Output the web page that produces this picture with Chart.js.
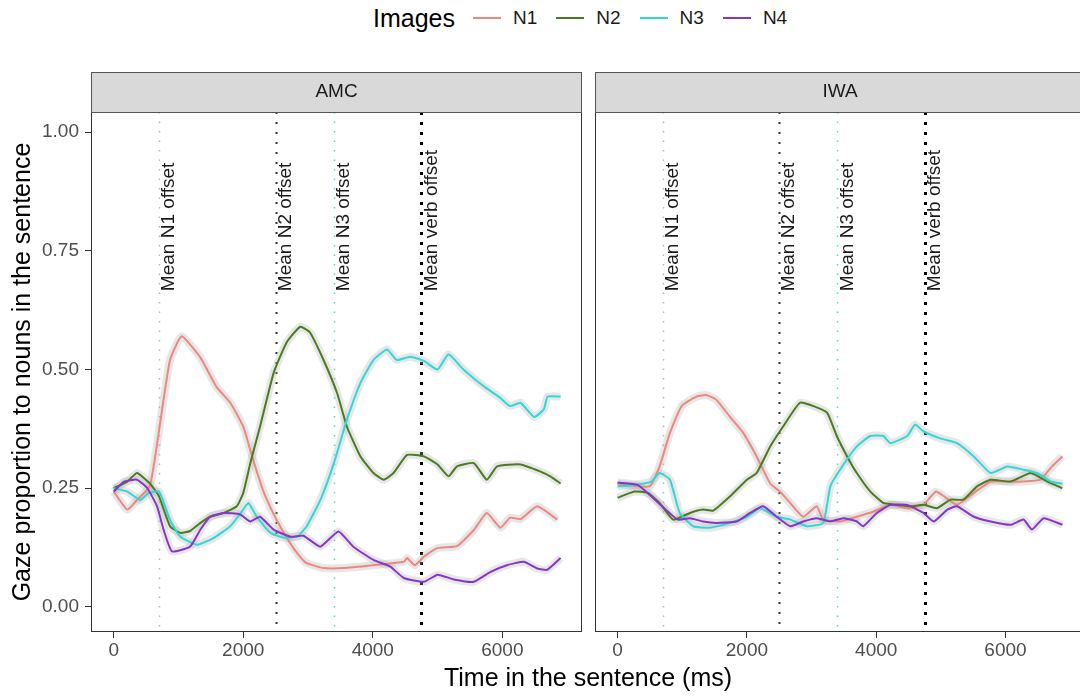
<!DOCTYPE html>
<html>
<head>
<meta charset="utf-8">
<script src="https://cdn.jsdelivr.net/npm/chart.js@4.4.1/dist/chart.umd.min.js"></script>
<style>
  html, body { margin: 0; padding: 0; background: #fff; }
  body { width: 1080px; height: 696px; overflow: hidden; position: relative; font-family: 'Liberation Sans', Arial, sans-serif; }
  #left { position: absolute; left: 0; top: 0; }
  #right { position: absolute; left: 592px; top: 0; }
  #legend { position: absolute; left: 373px; top: 3px; height: 30px; display: flex; align-items: center; white-space: nowrap; }
  #legend .title { font-size: 25px; color: #000; margin-right: 18px; }
  #legend .key { width: 28px; height: 2px; margin-right: 12px; }
  #legend .lab { font-size: 19px; color: #1a1a1a; margin-right: 19px; }
  #xtitle { position: absolute; left: 0; width: 1176px; top: 663px; text-align: center; font-size: 25px; color: #000; }
</style>
</head>
<body>
<div id="legend"></div>
<canvas id="left" width="585" height="696"></canvas>
<canvas id="right" width="496" height="696"></canvas>
<div id="xtitle">Time in the sentence (ms)</div>
<script>
// series names and colours
const seriesNames = ['N1', 'N2', 'N3', 'N4'];
const seriesColors = ['#ED887E', '#4B7B1F', '#2FD8D8', '#8636C6'];
const panelNames = ['AMC', 'IWA'];

// vertical reference lines (ms)
const offsetTimes = [700, 2500, 3400, 4750];
const offsetLabels = ['Mean N1 offset', 'Mean N2 offset', 'Mean N3 offset', 'Mean verb offset'];

const xTicks = [0, 2000, 4000, 6000];
const yTicks = [0, 0.25, 0.5, 0.75, 1];

// [time ms, proportion]
const amcN1 = [[0,.243],[210,.205],[360,.225],[560,.255],[720,.39],[870,.52],[1050,.57],[1340,.525],[1590,.463],[1800,.43],[2000,.38],[2110,.33],[2210,.285],[2330,.237],[2520,.182],[2775,.124],[2960,.094],[3240,.082],[3550,.082],[4010,.088],[4480,.095],[4530,.103],[4650,.088],[4790,.106],[5000,.124],[5300,.128],[5560,.162],[5760,.198],[5970,.167],[6120,.188],[6280,.185],[6540,.212],[6850,.184]];
const amcN2 = [[0,.25],[210,.264],[360,.282],[560,.26],[700,.233],[870,.17],[1030,.156],[1180,.16],[1340,.177],[1490,.19],[1700,.198],[1900,.212],[2000,.24],[2110,.303],[2260,.38],[2470,.493],[2670,.557],[2880,.59],[3030,.578],[3240,.52],[3450,.45],[3600,.38],[3810,.317],[4010,.282],[4170,.268],[4320,.282],[4530,.32],[4790,.317],[5000,.30],[5170,.275],[5300,.296],[5560,.303],[5760,.268],[5920,.296],[6280,.30],[6590,.285],[6740,.275],[6900,.26]];
const amcN3 = [[0,.25],[210,.243],[410,.225],[540,.24],[700,.243],[870,.183],[1030,.148],[1290,.131],[1540,.145],[1800,.17],[2000,.205],[2080,.219],[2210,.19],[2420,.156],[2620,.146],[2830,.148],[2980,.17],[3190,.225],[3400,.303],[3600,.394],[3810,.472],[4010,.52],[4220,.542],[4370,.52],[4580,.527],[4790,.518],[5000,.50],[5170,.532],[5400,.50],[5710,.465],[5970,.44],[6120,.423],[6280,.43],[6490,.40],[6640,.416],[6700,.443],[6900,.443]];
const amcN4 = [[0,.243],[160,.264],[360,.268],[520,.25],[670,.212],[770,.163],[900,.117],[1180,.127],[1340,.163],[1490,.19],[1700,.198],[1950,.195],[2110,.18],[2260,.19],[2470,.163],[2730,.148],[2930,.15],[3190,.127],[3470,.159],[3700,.127],[4010,.099],[4270,.085],[4480,.061],[4790,.053],[5000,.068],[5250,.058],[5560,.053],[5820,.074],[6070,.088],[6330,.095],[6540,.081],[6690,.078],[6900,.103]];

const iwaN1 = [[0,.26],[290,.254],[500,.254],[650,.296],[810,.367],[990,.423],[1220,.443],[1380,.446],[1530,.436],[1740,.40],[1940,.367],[2150,.317],[2360,.26],[2510,.243],[2670,.219],[2870,.19],[3080,.212],[3180,.184],[3440,.18],[3700,.19],[3960,.201],[4220,.215],[4480,.208],[4730,.215],[4920,.243],[5050,.233],[5250,.215],[5510,.24],[5770,.264],[6030,.264],[6280,.264],[6540,.268],[6720,.296],[6880,.317]];
const iwaN2 = [[0,.23],[260,.243],[470,.24],[650,.219],[860,.184],[1120,.198],[1320,.205],[1480,.203],[1740,.233],[2000,.268],[2150,.282],[2360,.338],[2560,.38],[2820,.43],[3030,.423],[3240,.409],[3390,.36],[3550,.317],[3700,.282],[3910,.243],[4110,.219],[4320,.215],[4530,.212],[4730,.215],[4940,.208],[5150,.226],[5350,.226],[5560,.254],[5770,.268],[6080,.264],[6390,.282],[6650,.264],[6880,.25]];
const iwaN3 = [[0,.254],[260,.257],[520,.264],[650,.282],[810,.268],[960,.198],[1170,.17],[1430,.167],[1740,.177],[2000,.19],[2200,.208],[2460,.19],[2670,.184],[2930,.17],[3180,.177],[3290,.254],[3440,.289],[3700,.338],[3910,.36],[4110,.36],[4220,.345],[4480,.36],[4600,.384],[4730,.37],[4990,.355],[5250,.345],[5510,.317],[5770,.282],[6030,.296],[6280,.289],[6490,.282],[6700,.264],[6880,.26]];
const iwaN4 = [[0,.262],[310,.257],[520,.233],[720,.208],[930,.184],[1120,.187],[1320,.18],[1530,.177],[1840,.18],[2050,.198],[2250,.212],[2460,.19],[2670,.17],[2870,.18],[3080,.187],[3290,.18],[3490,.187],[3700,.18],[3800,.17],[4010,.198],[4220,.215],[4480,.215],[4730,.198],[4890,.18],[5100,.205],[5250,.212],[5510,.19],[5770,.18],[6080,.173],[6280,.184],[6410,.163],[6590,.187],[6880,.173]];

const FONT = "'Liberation Sans', Arial, sans-serif";
const offsetStyles = [
    { color: '#a9bcbc', width: 1.5, dash: [1.5, 8] },
    { color: '#2e3820', width: 2, dash: [2, 8] },
    { color: '#5fd4d4', width: 1.5, dash: [1.5, 8] },
    { color: '#000000', width: 3, dash: [3, 7] }
];

// legend
const legend = document.getElementById('legend');
legend.innerHTML = '<span class="title">Images</span>' + seriesNames.map((n, i) =>
    `<span class="key" style="background:${seriesColors[i]}"></span><span class="lab">${n}</span>`).join('');

// strip, panel border and reference lines
const panelDecor = {
    id: 'panelDecor',
    beforeDatasetsDraw(chart) {
        const { ctx, chartArea: a, scales: { x, y } } = chart;
        ctx.save();
        ctx.beginPath();
        ctx.rect(a.left, a.top, a.right - a.left, a.bottom - a.top);
        ctx.clip();
        offsetTimes.forEach((t, i) => {
            const s = offsetStyles[i];
            const px = Math.round(x.getPixelForValue(t)) + 0.5;
            ctx.strokeStyle = s.color;
            ctx.lineWidth = s.width;
            ctx.setLineDash(s.dash);
            ctx.beginPath();
            ctx.moveTo(px, a.top);
            ctx.lineTo(px, a.bottom);
            ctx.stroke();
        });
        ctx.setLineDash([]);
        ctx.fillStyle = '#1a1a1a';
        ctx.font = '19px ' + FONT;
        ctx.textAlign = 'left';
        ctx.textBaseline = 'middle';
        offsetTimes.forEach((t, i) => {
            const px = x.getPixelForValue(t);
            ctx.save();
            ctx.translate(px + 10, y.getPixelForValue(0.665));
            ctx.rotate(-Math.PI / 2);
            ctx.fillText(offsetLabels[i], 0, 0);
            ctx.restore();
        });
        ctx.restore();
    },
    afterDraw(chart, args, opts) {
        const { ctx, chartArea: a } = chart;
        ctx.save();
        ctx.strokeStyle = '#333';
        ctx.lineWidth = 1;
        ctx.strokeRect(a.left + 0.5, a.top + 0.5, a.right - a.left - 1, a.bottom - a.top - 1);
        const h = 40;
        ctx.fillStyle = '#d9d9d9';
        ctx.fillRect(a.left, a.top - h, a.right - a.left, h);
        ctx.strokeStyle = '#555';
        ctx.strokeRect(a.left + 0.5, a.top - h + 0.5, a.right - a.left - 1, h);
        ctx.fillStyle = '#1a1a1a';
        ctx.font = '19px ' + FONT;
        ctx.textAlign = 'center';
        ctx.textBaseline = 'middle';
        ctx.fillText(opts.label, (a.left + a.right) / 2, a.top - h / 2);
        ctx.restore();
    }
};

function makeDatasets(list) {
    const ribbons = list.map(d => ({
        data: d, borderColor: 'rgba(175,175,175,0.3)', borderWidth: 8,
        pointRadius: 0, tension: 0.15, order: 20
    }));
    const lines = list.map((d, i) => ({
        label: seriesNames[i], data: d, borderColor: seriesColors[i], borderWidth: 2,
        pointRadius: 0, tension: 0.15, order: 4 - i
    }));
    return ribbons.concat(lines);
}

function panel(canvasId, data, label, showY, padding) {
    return new Chart(document.getElementById(canvasId), {
        type: 'line',
        data: { datasets: makeDatasets(data) },
        plugins: [panelDecor],
        options: {
            responsive: false,
            animation: false,
            devicePixelRatio: 1,
            layout: { padding: padding },
            plugins: {
                legend: { display: false },
                tooltip: { enabled: false },
                panelDecor: { label: label }
            },
            scales: {
                x: {
                    type: 'linear', min: -350, max: 7230,
                    afterBuildTicks: s => { s.ticks = xTicks.map(v => ({ value: v })); },
                    afterFit: s => { s.height = 24; },
                    grid: { drawOnChartArea: false, color: '#333', tickLength: 6 },
                    border: { display: false },
                    ticks: { color: '#4d4d4d', font: { family: FONT, size: 19 }, padding: 1, maxRotation: 0,
                        callback: v => String(v) }
                },
                y: {
                    display: showY,
                    min: -0.0527, max: 1.0422,
                    afterBuildTicks: s => { s.ticks = yTicks.map(v => ({ value: v })); },
                    afterFit: s => { s.width = showY ? 91 : 0; },
                    grid: { drawOnChartArea: false, color: '#333', tickLength: 6 },
                    border: { display: false },
                    ticks: { color: '#4d4d4d', font: { family: FONT, size: 19 }, padding: 6,
                        callback: v => v.toFixed(2) },
                    title: { display: true, text: 'Gaze proportion to nouns in the sentence',
                        color: '#000', font: { family: FONT, size: 25 }, padding: { top: 8, bottom: 0 } }
                }
            }
        }
    });
}

panel('left', [amcN1, amcN2, amcN3, amcN4], panelNames[0], true, { top: 112, right: 3, bottom: 40, left: 0 });
panel('right', [iwaN1, iwaN2, iwaN3, iwaN4], panelNames[1], false, { top: 112, right: 3, bottom: 40, left: 3 });
</script>
</body>
</html>
